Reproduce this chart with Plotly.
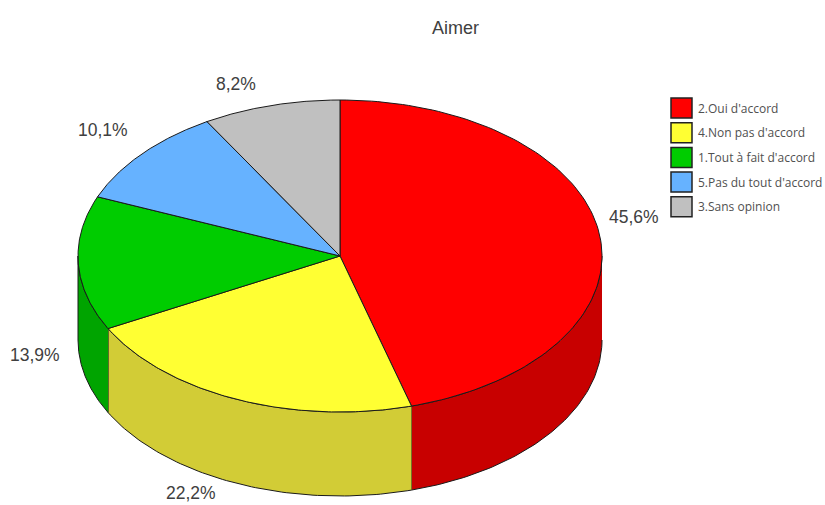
import numpy as np
import plotly.graph_objects as go

title = "Aimer"
categories = ["2.Oui d'accord", "4.Non pas d'accord", "1.Tout à fait d'accord", "5.Pas du tout d'accord", "3.Sans opinion"]
values = [45.6, 22.2, 13.9, 10.1, 8.2]
value_labels = ["45,6%", "22,2%", "13,9%", "10,1%", "8,2%"]
top_colors = ["#ff0000", "#ffff33", "#00cc00", "#66b2ff", "#c0c0c0"]
side_colors = ["#c80000", "#d2cc36", "#00a400", "#5090d0", "#a0a0a0"]

CX, CY, RX, RY, DEPTH = 340, 256, 262, 156, 84
fig = go.Figure()


def px(t):
    return CX + RX * np.sin(t)


def py(t):
    return CY - RY * np.cos(t)


def poly(x, y, fill, line="#1a1a1a", w=1):
    fig.add_trace(go.Scatter(x=list(x), y=list(y), mode="lines", fill="toself", fillcolor=fill,
                             line=dict(color=line, width=w), hoverinfo="skip", showlegend=False))


edges = np.radians(np.cumsum([0] + values) * 3.6)
# the original's projection pulls the left half's slice edges back slightly
edges = edges + np.radians(2) * np.minimum(np.sin(edges), 0)

# rim, only the part facing the viewer (90 to 270 degrees)
for i in range(len(values)):
    a, b = max(edges[i], np.pi / 2), min(edges[i + 1], 3 * np.pi / 2)
    if a >= b:
        continue
    t = np.linspace(a, b, 80)
    poly(np.r_[px(t), px(t[::-1])], np.r_[py(t), py(t[::-1]) + DEPTH], side_colors[i])

# top face
for i in range(len(values)):
    t = np.linspace(edges[i], edges[i + 1], 120)
    poly(np.r_[CX, px(t), CX], np.r_[CY, py(t), CY], top_colors[i])

annotations = [dict(x=455, y=28, text=title, showarrow=False, xref="x", yref="y",
                    font=dict(family="Liberation Sans", size=18, color="#404040"))]
label_xy = [(634, 217), (191, 493), (35, 355), (103, 130), (236, 84)]
for (x, y), s in zip(label_xy, value_labels):
    annotations.append(dict(x=x, y=y, text=s, showarrow=False, xref="x", yref="y",
                            font=dict(family="Liberation Sans", size=17.5, color="#404040")))

# legend
shapes = []
for i, c in enumerate(categories):
    y = 108 + i * 24.7
    shapes.append(dict(type="rect", xref="x", yref="y", x0=671, x1=692, y0=y - 10, y1=y + 10,
                       fillcolor=top_colors[i], line=dict(color="#222222", width=1.5)))
    annotations.append(dict(x=696, y=y, text=c, showarrow=False, xanchor="left", xref="x", yref="y",
                            font=dict(family="Open Sans", size=12, color="#505050")))

fig.update_layout(
    width=825, height=505, margin=dict(l=0, r=0, t=0, b=0), autosize=False,
    paper_bgcolor="white", plot_bgcolor="white", showlegend=False,
    xaxis=dict(range=[0, 825], visible=False, fixedrange=True),
    yaxis=dict(range=[505, 0], visible=False, fixedrange=True),
    annotations=annotations, shapes=shapes,
)
fig.write_html("out.html", config={"displayModeBar": False},
               post_script="document.body.style.margin='0';document.body.style.overflow='hidden';")
